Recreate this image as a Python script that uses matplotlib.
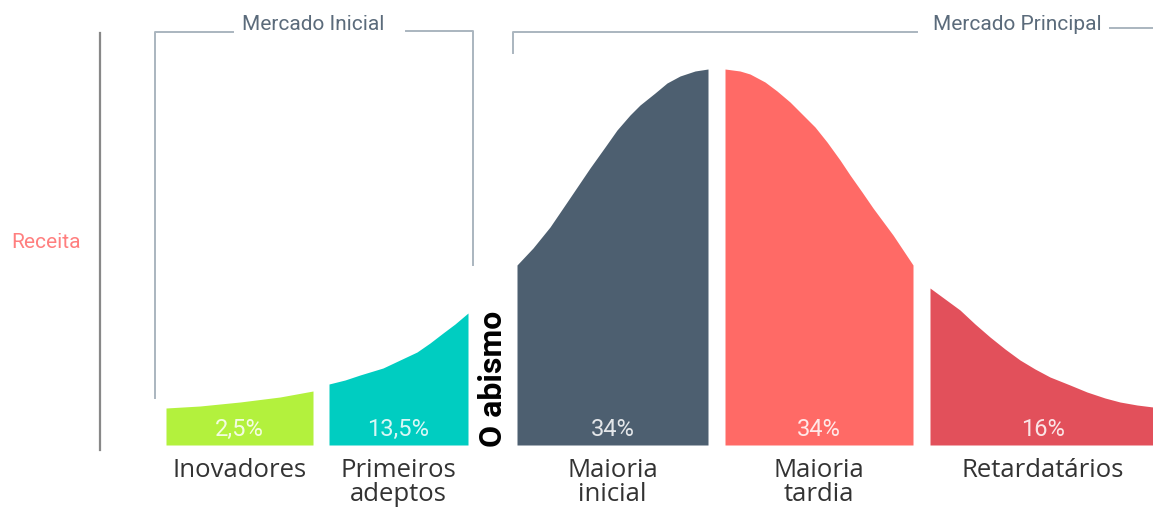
import matplotlib
matplotlib.use('Agg')
import matplotlib.pyplot as plt

# adoption curve: x position and revenue height per segment
groups = ['Inovadores', 'Primeiros\nadeptos', 'Maioria\ninicial', 'Maioria\ntardia', 'Retardatários']
shares = ['2,5%', '13,5%', '34%', '34%', '16%']
colors = ['#b3f13d', '#00cdc1', '#4d5f70', '#ff6a66', '#e2505b']

inov_x = [166, 200, 240, 280, 313]
inov_y = [37, 39, 43, 48, 54]
prim_x = [329, 345, 360, 383, 400, 417, 430, 443, 455, 468]
prim_y = [61, 65, 70, 77, 85, 93, 102, 112, 121, 132]
maj1_x = [517, 533, 550, 567, 590, 605, 617, 630, 640, 655, 667, 680, 695, 708]
maj1_y = [180, 197, 218, 243, 277, 298, 315, 330, 340, 352, 362, 369, 374, 376]
maj2_x = [725, 740, 750, 765, 777, 790, 800, 815, 827, 840, 850, 862, 873, 893, 913]
maj2_y = [376, 374, 371, 363, 354, 343, 333, 318, 303, 285, 270, 253, 237, 210, 180]
late_x = [930, 945, 960, 975, 990, 1005, 1020, 1035, 1050, 1070, 1087, 1105, 1120, 1137, 1153]
late_y = [157, 146, 135, 121, 108, 96, 85, 76, 68, 60, 53, 47, 43, 40, 38]

curve_x = [inov_x, prim_x, maj1_x, maj2_x, late_x]
curve_y = [inov_y, prim_y, maj1_y, maj2_y, late_y]

cond = ['Roboto', 'DejaVu Sans']
body = ['Open Sans', 'Noto Sans', 'DejaVu Sans']

fig = plt.figure(figsize=(11.53, 5.27), dpi=100)
ax = fig.add_axes([0, 0, 1, 1])
ax.set_xlim(0, 1153)
ax.set_ylim(-82, 445)
ax.axis('off')

for xs, ys, c, g, s in zip(curve_x, curve_y, colors, groups, shares):
    ax.fill_between(xs, 0, ys, color=c, linewidth=0)
    mid = (xs[0] + xs[-1]) / 2
    if xs[-1] >= 1153:
        mid = 1043
    ax.text(mid, 16, s, ha='center', va='center', color='white', alpha=0.85,
            fontsize=17, family=cond)
    ax.text(mid, -13, g, ha='center', va='top',
            color='#333333', fontsize=18.5, family=body, linespacing=0.95)

# revenue axis
ax.plot([100, 100], [-5, 412], color='#888888', lw=1.6)
ax.text(46, 202, 'Receita', ha='center', va='center', color='#ff7f7f',
        fontsize=15, family=cond)

# chasm
ax.text(493, 66, 'O abismo', rotation=90, ha='center', va='center',
        color='black', fontsize=23, fontweight='bold', family=cond)

# market brackets
br = '#aab5bf'
ax.plot([155, 155, 233], [47, 413, 413], color=br, lw=1.4)
ax.plot([406, 473, 473], [414, 414, 180], color=br, lw=1.4)
ax.text(313, 420, 'Mercado Inicial', ha='center', va='center', color='#5b6b7b',
        fontsize=15, family=cond)
ax.plot([513, 513, 917], [392, 413, 413], color=br, lw=1.4)
ax.plot([1110, 1153], [417, 417], color=br, lw=1.4)
ax.text(1017, 420, 'Mercado Principal', ha='center', va='center', color='#5b6b7b',
        fontsize=15, family=cond)

fig.savefig('out.png', dpi=100)
